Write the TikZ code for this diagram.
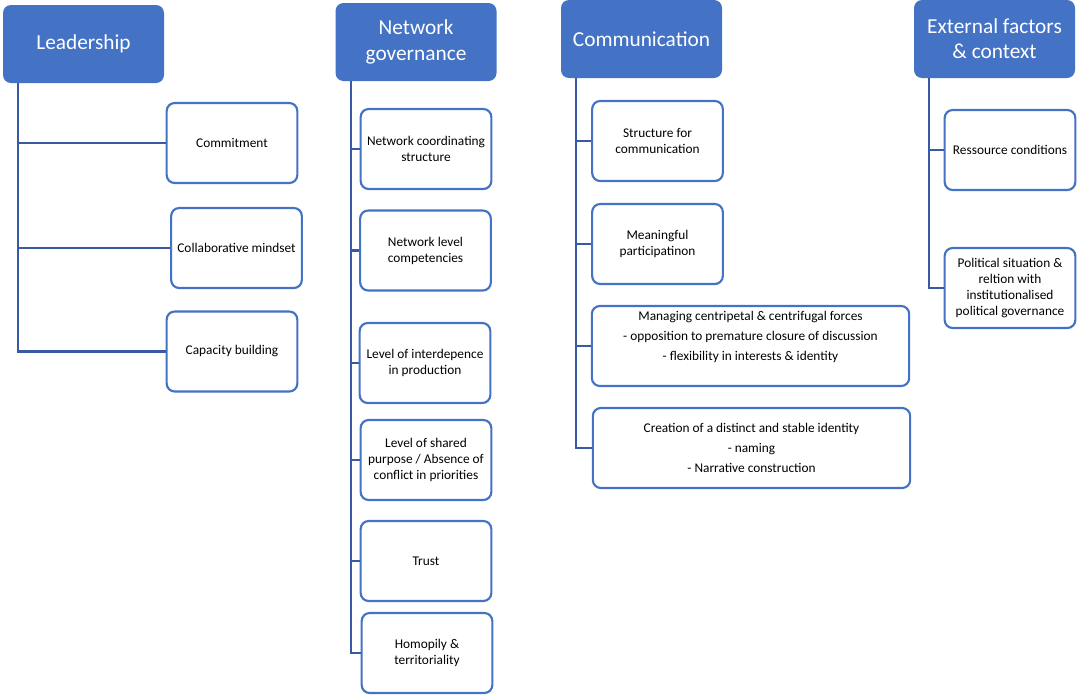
\documentclass[tikz,border=0pt]{standalone}
\usepackage{fontspec}
\setmainfont{Carlito}
\definecolor{hdrblue}{HTML}{4472C4}
\definecolor{lineblue}{RGB}{56,90,160}
\begin{document}
\begin{tikzpicture}[x=0.75pt,y=-0.75pt,
  header/.style={fill=hdrblue, draw=none, rounded corners=6pt, minimum width=120.75pt,
    minimum height=58.5pt, inner sep=0pt, align=center, text=white,
    font=\fontsize{16}{19}\selectfont},
  child/.style={draw=hdrblue, fill=white, line width=1.6pt, rounded corners=6pt,
    minimum width=98pt, minimum height=60pt, inner sep=0pt, align=center,
    font=\fontsize{10}{12}\selectfont},
  wide/.style={child, minimum width=238pt},
  conn/.style={draw=lineblue, line width=2pt}]
\useasboundingbox (0,0) rectangle (1077,697);

% column headers
\node[header] (lead) at (83.5,44) {Leadership};
\node[header] (ng) at (416,42) {Network\\governance};
\node[header] (comm) at (641.5,39) {Communication};
\node[header] (ext) at (994.5,39) {External factors\\\& context};

% trunk start points below each header
\coordinate (lt) at (18,83);
\coordinate (nt) at (351,81);
\coordinate (ct) at (576,78);
\coordinate (et) at (929,78);

% Leadership
\node[child] (c1) at (232,143) {Commitment};
\node[child] (c2) at (236.5,248) {Collaborative mindset};
\node[child] (c3) at (232,351.5) {Capacity building};

% Network governance
\node[child] (n1) at (426,149) {Network coordinating\\structure};
\node[child] (n2) at (425.5,250.5) {Network level\\competencies};
\node[child] (n3) at (425,363) {Level of interdepence\\in production};
\node[child] (n4) at (426,460) {Level of shared\\purpose / Absence of\\conflict in priorities};
\node[child] (n5) at (426,561) {Trust};
\node[child] (n6) at (427,653) {Homopily \&\\territoriality};

% Communication
\node[child] (m1) at (657.5,141) {Structure for\\communication};
\node[child] (m2) at (657.5,244) {Meaningful\\participatinon};
\node[wide] (m3) at (750.5,346) {Managing centripetal \& centrifugal forces\\[3pt]
  - opposition to premature closure of discussion\\[3pt]
  - flexibility in interests \& identity\\[3pt]\mbox{}};
\node[wide] (m4) at (751.5,448) {Creation of a distinct and stable identity\\[3pt]
  - naming\\[3pt]- Narrative construction};

% External factors
\node[child] (e1) at (1010,150) {Ressource conditions};
\node[child] (e2) at (1010,288) {Political situation \&\\reltion with\\institutionalised\\political governance};

% connectors
\draw[conn] (lt) |- (c3.west);
\draw[conn] (lt |- c1.west) -- (c1.west);
\draw[conn] (lt |- c2.west) -- (c2.west);

\draw[conn] (nt) |- (n6.west);
\foreach \n in {n1,n2,n3,n4,n5}
  \draw[conn] (nt |- \n.west) -- (\n.west);

\draw[conn] (ct) |- (m4.west);
\foreach \n in {m1,m2,m3}
  \draw[conn] (ct |- \n.west) -- (\n.west);

\draw[conn] (et) |- (e2.west);
\draw[conn] (et |- e1.west) -- (e1.west);
\end{tikzpicture}
\end{document}
